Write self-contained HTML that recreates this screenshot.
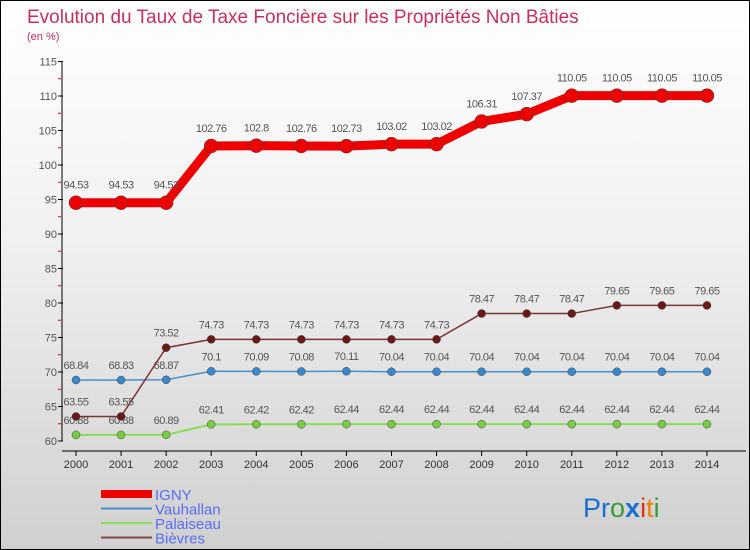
<!DOCTYPE html>
<html><head><meta charset="utf-8"><style>
body{margin:0}
#wrap{position:relative;width:748px;height:548px;border:1px solid #000;background:linear-gradient(#ffffff,#f2f2f2 40%,#d0d0d0);overflow:hidden;font-family:"Liberation Sans",sans-serif}
</style></head><body>
<div id="wrap">
<svg id="chart" width="748" height="548" style="position:absolute;left:0;top:0">
<text x="26" y="22" font-size="19" fill="#c8305a" font-weight="normal">Evolution du Taux de Taxe Foncière sur les Propriétés Non Bâties</text>
<text x="26" y="39" font-size="11" fill="#c8305a">(en %)</text>
<g id="axes"></g>
<g id="series"></g>
<g id="legend"></g>
<text x="582" y="516" font-size="27" font-family="Liberation Sans,sans-serif"><tspan fill="#1a6fd0">Pr</tspan><tspan fill="#3a9a3a">o</tspan><tspan fill="#1a6fd0" font-weight="bold">x</tspan><tspan fill="#e03010">i</tspan><tspan fill="#f08000">t</tspan><tspan fill="#3a9a3a">i</tspan></text>
</svg>
</div>
<script>
const years=[2000,2001,2002,2003,2004,2005,2006,2007,2008,2009,2010,2011,2012,2013,2014];
const igny=[94.53,94.53,94.53,102.76,102.8,102.76,102.73,103.02,103.02,106.31,107.37,110.05,110.05,110.05,110.05];
const vauhallan=[68.84,68.83,68.87,70.1,70.09,70.08,70.11,70.04,70.04,70.04,70.04,70.04,70.04,70.04,70.04];
const palaiseau=[60.88,60.88,60.89,62.41,62.42,62.42,62.44,62.44,62.44,62.44,62.44,62.44,62.44,62.44,62.44];
const bievres=[63.55,63.55,73.52,74.73,74.73,74.73,74.73,74.73,74.73,78.47,78.47,78.47,79.65,79.65,79.65];
const yTicks=[60,65,70,75,80,85,90,95,100,105,110,115];
const NS="http://www.w3.org/2000/svg";
function xS(i){return 75+i*45.07;}
function yS(v){return 440-(v-60)*6.9;}
function mk(tag,attrs,parent){const e=document.createElementNS(NS,tag);for(const k in attrs)e.setAttribute(k,attrs[k]);parent.appendChild(e);return e;}
const axes=document.getElementById('axes');
let ax=mk('line',{x1:61,y1:yS(115),x2:61,y2:yS(60),stroke:'#000'},axes);


let bx=mk('line',{x1:61,y1:450,x2:745,y2:450,stroke:'#000'},axes);


yTicks.forEach(v=>{
  const y=yS(v);
  mk('line',{x1:57,y1:y,x2:62,y2:y,stroke:'#000'},axes);
  if(v<115){mk('line',{x1:57,y1:yS(v+2.5),x2:60,y2:yS(v+2.5),stroke:'#e00'},axes);}
  const t=mk('text',{x:56,y:y+4,'font-size':11,fill:'#555','text-anchor':'end'},axes);
  t.textContent=v;
  
  
});
years.forEach((yr,i)=>{
  const x=xS(i);
  mk('line',{x1:x,y1:450,x2:x,y2:455,stroke:'#000'},axes);
  const t=mk('text',{x:x,y:467,'font-size':11,fill:'#333','text-anchor':'middle'},axes);
  t.textContent=yr;
  
  
});
const ser=document.getElementById('series');
function draw(data,name,color,lw,r,dot){
  const g=mk('g',{},ser);
  
  
  const pts=data.map((v,i)=>xS(i)+','+yS(v)).join(' ');
  mk('polyline',{points:pts,fill:'none',stroke:color,'stroke-width':lw},g);
  data.forEach((v,i)=>{
    const c=mk('circle',{cx:xS(i),cy:yS(v),r:r,fill:dot,stroke:'#444','stroke-width':0.5},g);
    
    
    const t=mk('text',{x:xS(i),y:yS(v)-(r+7),'font-size':11,fill:'#555','text-anchor':'middle','letter-spacing':'-0.5'},g);
    t.textContent=v;
    
    
  });
}
draw(palaiseau,'palaiseau','#88dd55',2,4,'#77cc44');
draw(vauhallan,'vauhallan','#4a90c8',1.5,4,'#3a88cc');
draw(bievres,'bievres','#7a3535',1.5,4,'#6a1818');
draw(igny,'igny','#ee0000',9,7,'#ee0000');
const leg=document.getElementById('legend');
const items=[['IGNY','#ee0000',8],['Vauhallan','#4a90c8',2],['Palaiseau','#88dd55',2],['Bièvres','#8a4545',2]];
items.forEach((it,i)=>{
  const y=493+i*14.5;
  const g=mk('g',{},leg);
  
  
  mk('line',{x1:100,y1:y,x2:151,y2:y,stroke:it[1],'stroke-width':it[2]},g);
  const t=mk('text',{x:154,y:y+6,'font-size':15,fill:'#5a6ef0'},g);
  t.textContent=it[0];
});
</script>
</body></html>
